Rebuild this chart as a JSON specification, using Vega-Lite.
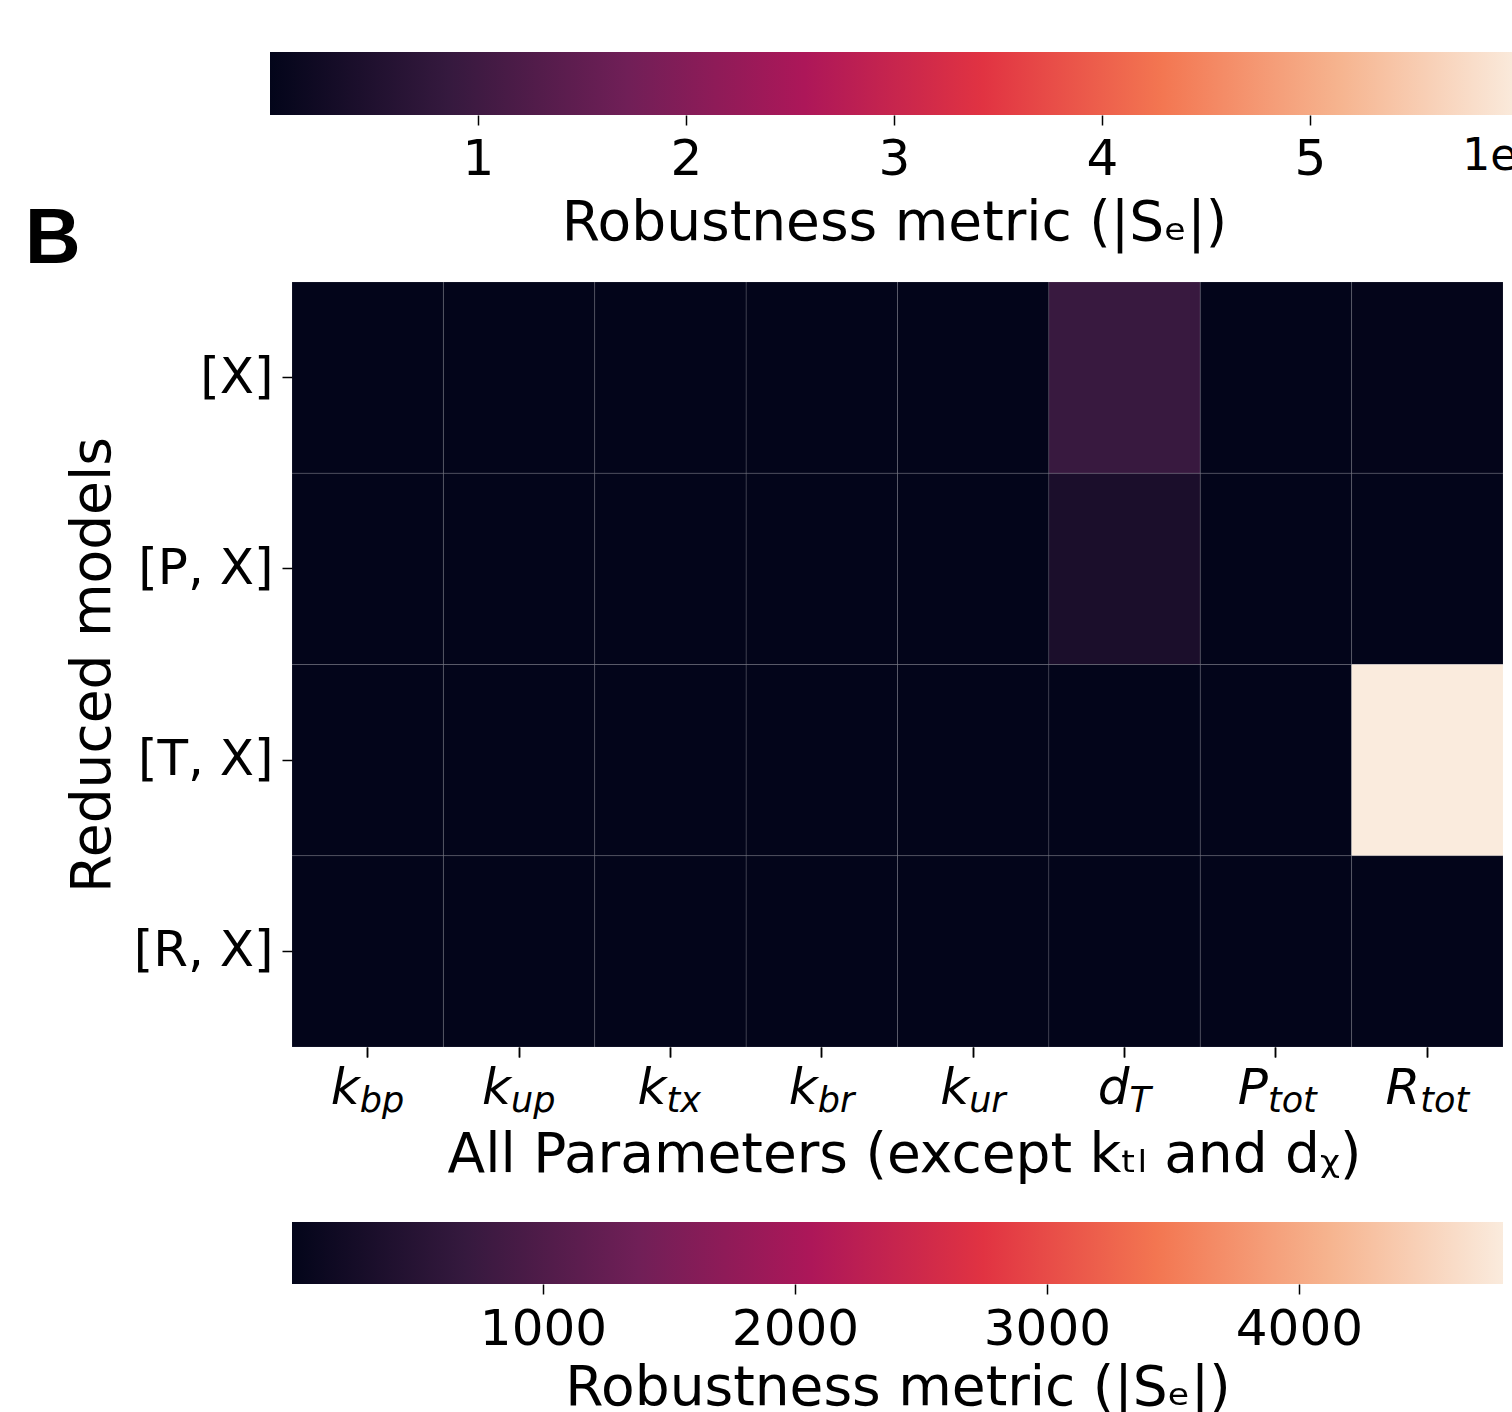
{
  "$schema": "https://vega.github.io/schema/vega-lite/v6.json",
  "background": "white",
  "padding": {"left": 25, "top": 52, "right": 0, "bottom": 0},
  "spacing": 31,
  "title": {
    "text": "B",
    "orient": "top",
    "anchor": "start",
    "frame": "group",
    "font": "Liberation Sans",
    "fontWeight": "bold",
    "fontSize": 77,
    "color": "#000",
    "baseline": "alphabetic",
    "offset": 0,
    "dx": -267,
    "dy": 288
  },
  "config": {
    "view": {"stroke": null},
    "font": "DejaVu Sans",
    "axis": {
      "labelColor": "#000",
      "titleColor": "#000",
      "titleFontWeight": "normal",
      "titleFont": "DejaVu Sans",
      "labelFont": "DejaVu Sans",
      "grid": false,
      "domain": false,
      "tickColor": "#000",
      "tickWidth": 1.5,
      "tickSize": 10
    }
  },
  "datasets": {
    "cells": [
      {"model": "[X]", "param": "k_bp", "value": 6},
      {"model": "[X]", "param": "k_up", "value": 8},
      {"model": "[X]", "param": "k_tx", "value": 5},
      {"model": "[X]", "param": "k_br", "value": 7},
      {"model": "[X]", "param": "k_ur", "value": 9},
      {"model": "[X]", "param": "d_T", "value": 730},
      {"model": "[X]", "param": "P_tot", "value": 10},
      {"model": "[X]", "param": "R_tot", "value": 12},
      {"model": "[P, X]", "param": "k_bp", "value": 5},
      {"model": "[P, X]", "param": "k_up", "value": 6},
      {"model": "[P, X]", "param": "k_tx", "value": 4},
      {"model": "[P, X]", "param": "k_br", "value": 6},
      {"model": "[P, X]", "param": "k_ur", "value": 7},
      {"model": "[P, X]", "param": "d_T", "value": 330},
      {"model": "[P, X]", "param": "P_tot", "value": 8},
      {"model": "[P, X]", "param": "R_tot", "value": 9},
      {"model": "[T, X]", "param": "k_bp", "value": 5},
      {"model": "[T, X]", "param": "k_up", "value": 6},
      {"model": "[T, X]", "param": "k_tx", "value": 5},
      {"model": "[T, X]", "param": "k_br", "value": 6},
      {"model": "[T, X]", "param": "k_ur", "value": 7},
      {"model": "[T, X]", "param": "d_T", "value": 6},
      {"model": "[T, X]", "param": "P_tot", "value": 8},
      {"model": "[T, X]", "param": "R_tot", "value": 4810},
      {"model": "[R, X]", "param": "k_bp", "value": 5},
      {"model": "[R, X]", "param": "k_up", "value": 6},
      {"model": "[R, X]", "param": "k_tx", "value": 5},
      {"model": "[R, X]", "param": "k_br", "value": 6},
      {"model": "[R, X]", "param": "k_ur", "value": 7},
      {"model": "[R, X]", "param": "d_T", "value": 6},
      {"model": "[R, X]", "param": "P_tot", "value": 8},
      {"model": "[R, X]", "param": "R_tot", "value": 9}
    ],
    "cbarA": [{"lo": 0, "hi": 60000000}]
  },
  "vconcat": [
    {
      "width": 1226,
      "height": 63,
      "data": {"name": "cbarA"},
      "mark": {
        "type": "rect",
        "fill": {
          "gradient": "linear", "x1": 0, "y1": 0, "x2": 1, "y2": 0,
          "stops": [
            {"offset": 0, "color": "#03051A"},
            {"offset": 0.143, "color": "#35193E"},
            {"offset": 0.286, "color": "#701F57"},
            {"offset": 0.429, "color": "#AD1759"},
            {"offset": 0.571, "color": "#E13342"},
            {"offset": 0.714, "color": "#F37651"},
            {"offset": 0.857, "color": "#F6B48F"},
            {"offset": 1, "color": "#FAEBDD"}
          ]
        }
      },
      "encoding": {
        "x": {
          "field": "lo",
          "type": "quantitative",
          "scale": {"zero": false, "nice": false, "range": [-22, 1226]},
          "axis": {
            "orient": "bottom",
            "values": [10000000, 20000000, 30000000, 40000000, 50000000, 57300000],
            "labelExpr": "datum.value > 55000000 ? '1e7' : format(datum.value / 10000000, 'd')",
            "labelFontSize": {"condition": {"test": "datum.value > 55000000", "value": 44}, "value": 50},
            "labelAlign": {"condition": {"test": "datum.value > 55000000", "value": "left"}, "value": "center"},
            "tickOpacity": {"condition": {"test": "datum.value > 55000000", "value": 0}, "value": 1},
            "labelBaseline": "top",
            "labelPadding": 9,
            "labelFlush": false,
            "labelOverlap": false,
            "labelBound": false,
            "title": "Robustness metric (|Sₑ|)",
            "titleFontSize": 55,
            "titlePadding": 12
          }
        },
        "x2": {"field": "hi"}
      }
    },
    {
      "width": 1211,
      "height": 765,
      "data": {"name": "cells"},
      "layer": [
        {
          "mark": {"type": "rect", "stroke": "#ffffff", "strokeOpacity": 0.1, "strokeWidth": 1},
          "encoding": {
            "x": {
              "field": "param",
              "type": "nominal",
              "sort": ["k_bp", "k_up", "k_tx", "k_br", "k_ur", "d_T", "P_tot", "R_tot"],
              "axis": {
                "orient": "bottom",
                "labelExpr": "split(datum.value, '_')[0]",
                "labelFontStyle": "italic",
                "labelFontSize": 50,
                "labelAlign": "right",
                "labelBaseline": "alphabetic",
                "labelAngle": 0,
                "labelPadding": 46,
                "labelOverlap": false,
                "labelOffset": {
                  "condition": [
                    {"test": "datum.value === 'd_T'", "value": 5},
                    {"test": "datum.value === 'R_tot'", "value": -7},
                    {"test": "datum.value === 'k_bp' || datum.value === 'k_up' || datum.value === 'P_tot'", "value": -8}
                  ],
                  "value": -4
                },
                "title": "All Parameters (except kₜₗ and dᵪ)",
                "titleFontSize": 55,
                "titlePadding": 15,
                "titleX": 612
              }
            },
            "y": {
              "field": "model",
              "type": "nominal",
              "sort": ["[X]", "[P, X]", "[T, X]", "[R, X]"],
              "axis": {
                "orient": "left",
                "labelFontSize": 50,
                "labelPadding": 9,
                "labelAngle": 0,
                "title": "Reduced models",
                "titleFontSize": 55,
                "titlePadding": 12
              }
            },
            "color": {
              "field": "value",
              "type": "quantitative",
              "scale": {
                "range": ["#03051A", "#35193E", "#701F57", "#AD1759", "#E13342", "#F37651", "#F6B48F", "#FAEBDD"],
                "interpolate": "rgb",
                "zero": false,
                "nice": false
              },
              "legend": null
            }
          }
        },
        {
          "mark": {"type": "rect", "opacity": 0},
          "encoding": {
            "x": {
              "field": "param",
              "type": "nominal",
              "sort": ["k_bp", "k_up", "k_tx", "k_br", "k_ur", "d_T", "P_tot", "R_tot"],
              "axis": {
                "orient": "bottom",
                "labelExpr": "split(datum.value, '_')[1]",
                "labelFontStyle": "italic",
                "labelFontSize": 35,
                "labelAlign": "left",
                "labelBaseline": "alphabetic",
                "labelAngle": 0,
                "labelPadding": 54,
                "labelOverlap": false,
                "labelOffset": {
                  "condition": [
                    {"test": "datum.value === 'd_T'", "value": 5},
                    {"test": "datum.value === 'R_tot'", "value": -7},
                    {"test": "datum.value === 'k_bp' || datum.value === 'k_up' || datum.value === 'P_tot'", "value": -8}
                  ],
                  "value": -4
                },
                "title": " ",
                "titleFontSize": 55,
                "titlePadding": 19
              }
            }
          }
        }
      ],
      "resolve": {"axis": {"x": "independent"}}
    },
    {
      "width": 1211,
      "height": 62,
      "data": {"name": "cells"},
      "transform": [
        {"aggregate": [{"op": "min", "field": "value", "as": "lo"}, {"op": "max", "field": "value", "as": "hi"}]}
      ],
      "mark": {
        "type": "rect",
        "fill": {
          "gradient": "linear", "x1": 0, "y1": 0, "x2": 1, "y2": 0,
          "stops": [
            {"offset": 0, "color": "#03051A"},
            {"offset": 0.143, "color": "#35193E"},
            {"offset": 0.286, "color": "#701F57"},
            {"offset": 0.429, "color": "#AD1759"},
            {"offset": 0.571, "color": "#E13342"},
            {"offset": 0.714, "color": "#F37651"},
            {"offset": 0.857, "color": "#F6B48F"},
            {"offset": 1, "color": "#FAEBDD"}
          ]
        }
      },
      "encoding": {
        "x": {
          "field": "lo",
          "type": "quantitative",
          "scale": {"zero": false, "nice": false},
          "axis": {
            "orient": "bottom",
            "values": [1000, 2000, 3000, 4000],
            "format": "d",
            "labelFontSize": 50,
            "labelBaseline": "top",
            "labelPadding": 10,
            "labelFlush": false,
            "labelOverlap": false,
            "title": "Robustness metric (|Sₑ|)",
            "titleFontSize": 55,
            "titlePadding": 7
          }
        },
        "x2": {"field": "hi"}
      }
    }
  ]
}
